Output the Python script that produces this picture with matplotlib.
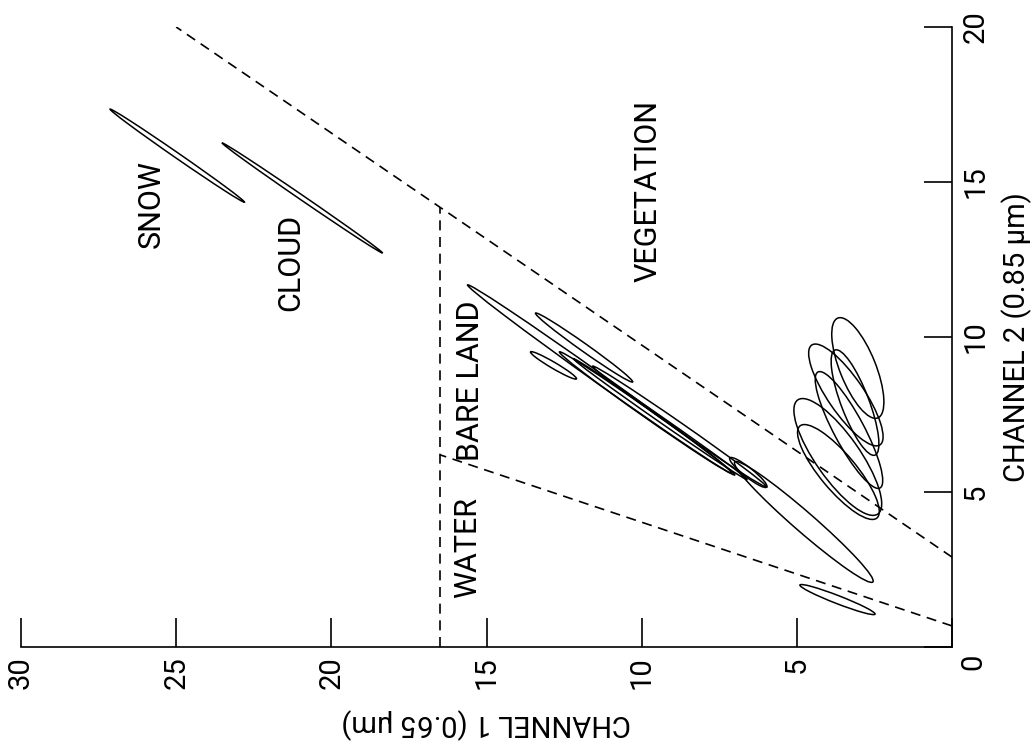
import numpy as np
import matplotlib
matplotlib.use("Agg")
import matplotlib.pyplot as plt
from matplotlib.patches import Ellipse

plt.rcParams['font.family'] = ['Roboto', 'DejaVu Sans']

# ellipse tips as (channel 1, channel 2) pairs, plus minor axis width
snow_ch1 = [27.13, 22.8]
snow_ch2 = [17.35, 14.35]
snow_w = 0.17

cloud_ch1 = [23.52, 18.35]
cloud_ch2 = [16.26, 12.71]
cloud_w = 0.15

water_ch1 = [4.9, 2.48]
water_ch2 = [2.0, 1.06]
water_w = 0.26

bare_ch1_a = [15.61, 13.42, 13.58, 12.65, 11.58, 12.2, 7.16, 7.0]
bare_ch2_a = [11.68, 10.77, 9.52, 9.52, 9.06, 9.3, 6.1, 5.97]
bare_ch1_b = [7.0, 10.29, 12.1, 7.1, 5.97, 6.6, 5.97, 2.55]
bare_ch2_b = [5.55, 8.55, 8.65, 5.61, 5.16, 5.4, 5.16, 2.1]
bare_w = [0.32, 0.25, 0.2, 0.28, 0.25, 0.18, 0.3, 0.65]

veg_ch1_a = [3.68, 4.52, 4.32, 4.97, 4.9, 3.77]
veg_ch2_a = [10.61, 9.74, 8.87, 7.97, 7.13, 9.58]
veg_ch1_b = [2.39, 2.32, 2.32, 2.39, 2.42, 2.48]
veg_ch2_b = [7.39, 6.52, 5.13, 4.29, 4.16, 6.19]
veg_w = [1.16, 1.16, 0.97, 1.42, 1.16, 0.9]

# class boundaries (dashed)
upper_ch1 = [0, 25]
upper_ch2 = [2.9, 20]
lower_ch1 = [0, 16.5]
lower_ch2 = [0.68, 6.2]
vert_ch1 = [16.5, 16.5]
vert_ch2 = [0, 14.19]

labels = ["SNOW", "CLOUD", "VEGETATION", "BARE LAND", "WATER"]
label_ch1 = [25.8, 21.3, 9.8, 15.5, 15.6]
label_ch2 = [14.3, 12.4, 14.7, 8.6, 3.2]

ch1_ticks = [30, 25, 20, 15, 10, 5, 0]
ch2_ticks = [0, 5, 10, 15, 20]


def ellipse(ax, x1, y1, x2, y2, w):
    cx, cy = (x1 + x2) / 2, (y1 + y2) / 2
    length = np.hypot(x2 - x1, y2 - y1)
    ang = np.degrees(np.arctan2(y2 - y1, x2 - x1))
    ax.add_patch(Ellipse((cx, cy), length, w, angle=ang, fill=False,
                         ec='black', lw=1.1))


fig = plt.figure(figsize=(10.33, 7.54), dpi=100)
ax = fig.add_axes([21 / 1033, 107 / 754, 931 / 1033, 620 / 754])
ax.set_xlim(30, 0)
ax.set_ylim(0, 20)

ellipse(ax, snow_ch1[0], snow_ch2[0], snow_ch1[1], snow_ch2[1], snow_w)
ellipse(ax, cloud_ch1[0], cloud_ch2[0], cloud_ch1[1], cloud_ch2[1], cloud_w)
ellipse(ax, water_ch1[0], water_ch2[0], water_ch1[1], water_ch2[1], water_w)
for i in range(len(bare_w)):
    ellipse(ax, bare_ch1_a[i], bare_ch2_a[i], bare_ch1_b[i], bare_ch2_b[i], bare_w[i])
for i in range(len(veg_w)):
    ellipse(ax, veg_ch1_a[i], veg_ch2_a[i], veg_ch1_b[i], veg_ch2_b[i], veg_w[i])

dash = dict(color='black', lw=1.2, ls=(0, (6, 4)))
ax.plot(upper_ch1, upper_ch2, **dash)
ax.plot(lower_ch1, lower_ch2, **dash)
ax.plot(vert_ch1, vert_ch2, **dash)

for t, x, y in zip(labels, label_ch1, label_ch2):
    ax.text(x, y, t, rotation=90, ha='center', va='center', fontsize=22)

ax.spines['top'].set_visible(False)
ax.spines['left'].set_visible(False)
for s in ('bottom', 'right'):
    ax.spines[s].set_linewidth(1.2)

ax.set_xticks(ch1_ticks)
ax.set_xticklabels([str(t) if t else '' for t in ch1_ticks], rotation=90)
ax.yaxis.tick_right()
ax.set_yticks(ch2_ticks)
ax.set_yticklabels([str(t) if t else '' for t in ch2_ticks], rotation=90, va='center')
ax.tick_params(axis='x', direction='in', length=21, width=1.2, pad=7, labelsize=21)
ax.tick_params(axis='y', direction='in', length=20, width=1.2, pad=7, labelsize=21)
ax.annotate('0', xy=(0, 0), xytext=(21, -15), textcoords='offset pixels',
            rotation=90, ha='center', va='center', fontsize=21,
            annotation_clip=False)

ax.set_xlabel("CHANNEL 1 (0.65 µm)", rotation=180, fontsize=21, va='center')
ax.xaxis.set_label_coords(0.5, -0.1226)
ax.yaxis.set_label_position('right')
ax.set_ylabel("CHANNEL 2 (0.85 µm)", rotation=90, fontsize=21, va='center')
ax.yaxis.set_label_coords(1.0698, 0.5)

fig.savefig("out.png", dpi=100)
